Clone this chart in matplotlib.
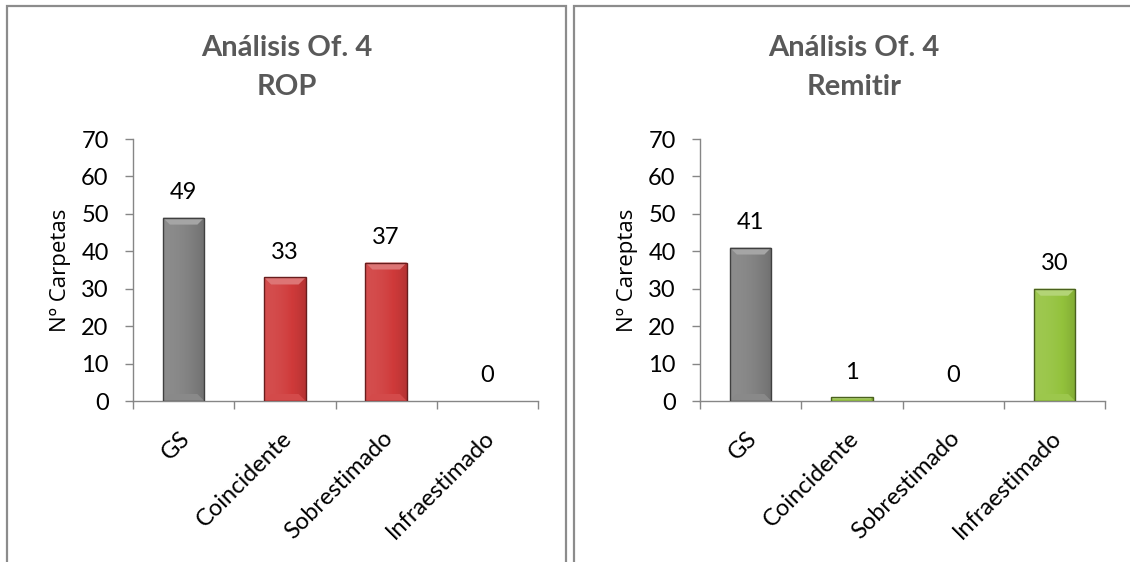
import matplotlib
matplotlib.use("Agg")
import matplotlib.pyplot as plt
import matplotlib.transforms as mtransforms
import numpy as np
from matplotlib.patches import Rectangle, Polygon
from matplotlib.colors import to_rgb

plt.rcParams['font.family'] = ['Lato', 'DejaVu Sans']

# ---- data ----
categories = ["GS", "Coincidente", "Sobrestimado", "Infraestimado"]
rop_values = [49, 33, 37, 0]
remitir_values = [41, 1, 0, 30]
title_line1 = "Análisis Of. 4"
subtitles = ["ROP", "Remitir"]
ylabels = ["Nº Carpetas", "Nº Careptas"]
yticks = [0, 10, 20, 30, 40, 50, 60, 70]

GRAY = "#7f7f7f"
RED = "#cf3a3a"
GREEN = "#93c23c"
AXIS = "#868686"
TITLE = "#595959"

rop_colors = [GRAY, RED, RED, RED]
remitir_colors = [GRAY, GREEN, GREEN, GREEN]

FS = 17

W, H = 1130, 562
fig = plt.figure(figsize=(W / 100, H / 100), dpi=100)


def shade(c, f):
    r, g, b = to_rgb(c)
    if f >= 0:
        return (r + (1 - r) * f, g + (1 - g) * f, b + (1 - b) * f)
    return (r * (1 + f), g * (1 + f), b * (1 + f))


def bevel_bars(ax, bars, colors):
    fig.canvas.draw()
    p0 = ax.transData.transform((0, 0))
    p1 = ax.transData.transform((1, 1))
    px_x = p1[0] - p0[0]
    px_y = p1[1] - p0[1]
    for rect, c in zip(bars, colors):
        x, w, h = rect.get_x(), rect.get_width(), rect.get_height()
        if h <= 0:
            continue
        # horizontal shading across the bar body
        n = 64
        t = np.linspace(0, 1, n)
        prof = 0.10 - 0.22 * t ** 2
        img = np.array([[shade(c, v) for v in prof]])
        im = ax.imshow(img, extent=(x, x + w, 0, h), aspect='auto',
                       interpolation='bilinear', zorder=2)
        im.set_clip_path(rect)
        dy = min(7 / px_y, h / 2)
        dx = min(7 / px_x, dy * px_y / px_x)
        top = Polygon([(x, h), (x + w, h), (x + w - dx, h - dy), (x + dx, h - dy)],
                      closed=True, facecolor=shade(c, 0.30), edgecolor='none', zorder=3)
        ax.add_patch(top)
        bot = Polygon([(x, 0), (x + w, 0), (x + w - dx, dy), (x + dx, dy)],
                      closed=True, facecolor=shade(c, 0.08), edgecolor='none', zorder=3)
        ax.add_patch(bot)
        ax.add_patch(Rectangle((x, 0), w, h, facecolor='none',
                               edgecolor=shade(c, -0.5), lw=1.0, zorder=4))


def panel(left, values, colors, subtitle, ylabel, ylabel_x, title_x):
    ax = fig.add_axes([left / W, 1 - 401 / H, 405 / W, 262 / H])
    xs = np.arange(len(categories))
    bars = ax.bar(xs, values, width=0.41, color=colors, zorder=2, linewidth=0)
    ax.set_xlim(-0.5, len(categories) - 0.5)
    ax.set_ylim(0, 70)
    ax.set_yticks(yticks)
    ax.tick_params(axis='y', direction='out', length=5.5, width=1, color=AXIS,
                   labelsize=FS, pad=12)
    ax.set_xticks(np.arange(len(categories) + 1) - 0.5)
    ax.set_xticklabels([])
    ax.tick_params(axis='x', direction='out', length=5.5, width=1, color=AXIS)
    ax.set_xticks(xs, minor=True)
    labels = ax.set_xticklabels(categories, minor=True, rotation=45, ha='right',
                                rotation_mode='anchor', fontsize=FS)
    ax.tick_params(axis='x', which='minor', length=0, pad=19)
    shift = mtransforms.ScaledTranslation(-4 / 100, 0, fig.dpi_scale_trans)
    for lab in labels:
        lab.set_transform(lab.get_transform() + shift)
    for s in ('top', 'right'):
        ax.spines[s].set_visible(False)
    for s in ('left', 'bottom'):
        ax.spines[s].set_color(AXIS)
        ax.spines[s].set_linewidth(1)
    ax.patch.set_visible(False)
    bevel_bars(ax, bars, colors)
    ax.set_xlim(-0.5, len(categories) - 0.5)
    ax.set_ylim(0, 70)
    for x, v in zip(xs, values):
        ax.annotate(f"{v}", (x, v), xytext=(0, 18), textcoords='offset points',
                    ha='center', va='center', fontsize=FS)
    fig.text(ylabel_x / W, 1 - 270 / H, ylabel, rotation=90, ha='center',
             va='center', fontsize=16, family=['Open Sans', 'DejaVu Sans'])
    fig.text(title_x / W, 1 - 48 / H, title_line1, ha='center', va='center',
             fontsize=21, fontweight='bold', color=TITLE)
    fig.text(title_x / W, 1 - 87 / H, subtitle, ha='center', va='center',
             fontsize=21, fontweight='bold', color=TITLE)
    return ax


panel(133, rop_values, rop_colors, subtitles[0], ylabels[0], 60, 287)
panel(700, remitir_values, remitir_colors, subtitles[1], ylabels[1], 627, 854)

# chart area frames
lw = 1.6
fig.patches.append(Rectangle((7 / W, -0.05), (566 - 7) / W, 1.05 - 6 / H,
                             transform=fig.transFigure, fill=False,
                             edgecolor="#8c8c8c", lw=lw))
fig.patches.append(Rectangle((574 / W, -0.05), (1140 - 574) / W, 1.05 - 6 / H,
                             transform=fig.transFigure, fill=False,
                             edgecolor="#8c8c8c", lw=lw))

fig.savefig("out.png", dpi=100, facecolor='white')
